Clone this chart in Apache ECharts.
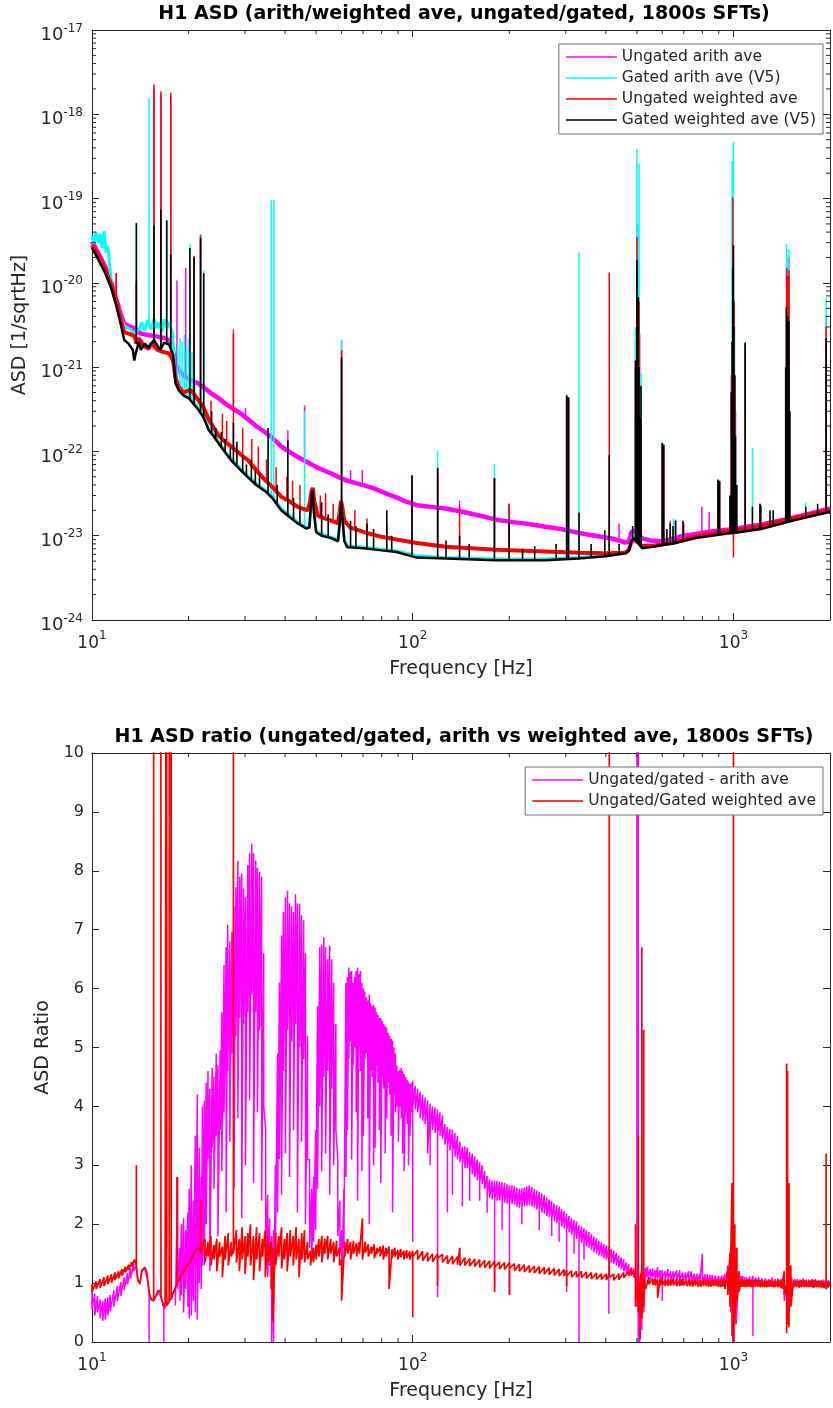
<!DOCTYPE html>
<html>
<head>
<meta charset="utf-8">
<title>H1 ASD</title>
<script src="https://cdn.jsdelivr.net/npm/echarts@6.0.0/dist/echarts.min.js"></script>
<style>
  html, body { margin: 0; padding: 0; background: #fff; }
  #chart { width: 833px; height: 1408px; }
</style>
</head>
<body>
<div id="chart"></div>
<script>
// ---------- ASD spectra: [frequency Hz, ASD 1/sqrt(Hz)] ----------
// "Floor" arrays trace the broadband noise floor; "Lines" arrays are narrow
// spectral lines given as [frequency, floor level, line peak].

const ungatedArithFloor = [
  [10, 3.1e-20], [10.5, 2.2e-20], [11, 1.55e-20], [11.5, 9.8e-21], [11.9, 6.4e-21], [12.3, 4.2e-21],
  [12.6, 3.3e-21], [13.2, 3.0e-21], [13.75, 2.8e-21], [14.2, 2.5e-21], [15, 2.4e-21], [16, 2.3e-21],
  [17, 2.2e-21], [17.6, 2.0e-21], [18.0, 1.4e-21], [18.3, 1.05e-21], [18.65, 9.1e-22], [19.5, 7.8e-22],
  [20.3, 7.0e-22], [21.5, 6.4e-22], [22.5, 5.6e-22], [23.5, 4.9e-22], [24.8, 4.3e-22], [26, 3.7e-22],
  [27.2, 3.3e-22], [28.8, 2.9e-22], [30.7, 2.4e-22], [32.5, 2.0e-22], [34.6, 1.7e-22], [36.5, 1.45e-22],
  [38.9, 1.15e-22], [41, 1.0e-22], [43.8, 8.6e-23], [46.5, 7.6e-23], [49, 6.8e-23], [52, 6.1e-23],
  [55.5, 5.5e-23], [58.5, 5.0e-23], [62.5, 4.5e-23], [66.5, 4.2e-23], [70.5, 3.95e-23], [75, 3.7e-23],
  [79, 3.4e-23], [84, 3.1e-23], [89, 2.85e-23], [95, 2.55e-23], [103, 2.3e-23], [113, 2.2e-23],
  [127, 2.1e-23], [145, 1.9e-23], [165, 1.7e-23], [182, 1.55e-23], [205, 1.45e-23], [230, 1.38e-23],
  [259, 1.28e-23], [290, 1.2e-23], [329, 1.08e-23], [370, 1.0e-23], [420, 9.2e-24], [461, 8.3e-24],
  [472, 8.5e-24], [481, 1.1e-23], [490, 1.15e-23], [500, 1.1e-23], [519, 9.3e-24], [550, 8.8e-24],
  [594, 8.6e-24], [650, 9.3e-24], [700, 1.0e-23], [763, 1.05e-23], [850, 1.12e-23], [957, 1.18e-23],
  [1000, 1.2e-23], [1100, 1.28e-23], [1218, 1.35e-23], [1380, 1.5e-23], [1545, 1.65e-23], [1750, 1.85e-23],
  [1945, 2.05e-23], [2000, 2.1e-23]
];
const ungatedArithLines = [
  [11.9, 6.4e-21, 1.3e-20], [13.75, 2.8e-21, 1.1e-20], [15.6, 2.4e-21, 2.0e-18], [16.4, 2.3e-21, 1.7e-18],
  [17.6, 2.0e-21, 1.6e-18], [18.4, 1.0e-21, 1.07e-20], [19.6, 7.8e-22, 1.5e-20], [21.8, 6.2e-22, 3.5e-20],
  [27.6, 3.2e-22, 2.8e-21], [30.1, 2.6e-22, 3.3e-22], [40.8, 1.02e-22, 1.77e-22], [46, 7.8e-23, 3.5e-22],
  [60, 4.8e-23, 2.07e-21], [64, 4.4e-23, 6.0e-23], [69.6, 4.0e-23, 6.0e-23], [99.5, 2.45e-23, 5.2e-23],
  [119.6, 2.15e-23, 6.4e-23], [140, 1.95e-23, 2.6e-23], [179.8, 1.56e-23, 4.8e-23], [199.7, 1.47e-23, 2.4e-23],
  [302, 1.17e-23, 4.6e-22], [306, 1.16e-23, 4.4e-22], [410, 9.3e-24, 1.5e-23], [440, 8.8e-24, 1.4e-23],
  [495, 1.12e-23, 2.0e-21], [500, 1.1e-23, 4.8e-20], [505, 1.05e-23, 8.0e-21], [510, 1.0e-23, 2.5e-21],
  [515, 9.5e-24, 3.0e-22], [600, 8.6e-24, 1.26e-22], [606, 8.6e-24, 1.2e-22], [635, 9.0e-24, 1.5e-23],
  [660, 9.5e-24, 1.55e-23], [797, 1.07e-23, 2.2e-23], [840, 1.1e-23, 1.9e-23], [895, 1.14e-23, 4.6e-23],
  [905, 1.15e-23, 4.4e-23], [985, 1.19e-23, 8.0e-22], [995, 1.2e-23, 2.95e-21], [1000, 1.2e-23, 1.5e-21],
  [1005, 1.2e-23, 9.0e-22], [1015, 1.21e-23, 3.0e-22], [1088, 1.28e-23, 1.9e-21], [1210, 1.35e-23, 2.4e-23],
  [1216, 1.35e-23, 2.3e-23], [1465, 1.58e-23, 2.2e-20], [1475, 1.59e-23, 1.2e-20], [1490, 1.6e-23, 2.0e-20],
  [1945, 2.05e-23, 4.1e-21]
];

const gatedArithFloor = [
  [10, 3.6e-20], [10.15, 2.9e-20], [10.3, 4.0e-20], [10.45, 3.0e-20], [10.6, 3.8e-20], [10.75, 2.6e-20],
  [10.9, 4.1e-20], [11.05, 2.3e-20], [11.2, 2.7e-20], [11.5, 1.0e-20], [11.9, 6.0e-21], [12.3, 3.8e-21],
  [12.6, 3.1e-21], [13.2, 2.8e-21], [13.6, 2.5e-21], [14.0, 2.8e-21], [14.3, 3.4e-21], [14.6, 2.7e-21],
  [14.9, 3.6e-21], [15.3, 2.8e-21], [15.6, 3.8e-21], [15.9, 2.9e-21], [16.2, 3.4e-21], [16.5, 2.6e-21],
  [16.8, 3.7e-21], [17.1, 2.9e-21], [17.4, 3.4e-21], [17.8, 2.6e-21], [18.1, 1.0e-21], [18.4, 6.0e-22],
  [18.7, 5.6e-22], [19.3, 4.8e-22], [20.0, 4.5e-22], [20.8, 3.8e-22], [21.5, 3.3e-22], [22.3, 2.7e-22],
  [23.1, 1.9e-22], [24.0, 1.6e-22], [24.8, 1.3e-22], [26.0, 1.0e-22], [27.2, 8.2e-23], [28.8, 6.5e-23],
  [30.7, 5.1e-23], [32.5, 4.2e-23], [34.6, 3.5e-23], [36.5, 2.9e-23], [38.9, 2.1e-23], [41, 1.8e-23],
  [43.8, 1.45e-23], [46.5, 1.25e-23], [47.6, 1.3e-23], [48.2, 2.5e-23], [48.7, 3.5e-23], [49.2, 2.0e-23],
  [50.0, 1.15e-23], [52, 1.05e-23], [55.5, 9.6e-24], [58.5, 9.0e-24], [59.3, 1.6e-23], [59.8, 2.5e-23],
  [60.4, 1.7e-23], [61.2, 9.0e-24], [62.5, 7.6e-24], [70.5, 7.3e-24], [80, 6.9e-24], [89, 6.6e-24],
  [103, 5.8e-24], [127, 5.5e-24], [182, 5.3e-24], [259, 5.3e-24], [329, 5.5e-24], [400, 5.9e-24],
  [461, 6.4e-24], [472, 6.8e-24], [481, 9.0e-24], [490, 1.0e-23], [500, 9.0e-24], [519, 7.3e-24],
  [560, 7.6e-24], [594, 7.9e-24], [650, 8.3e-24], [763, 9.6e-24], [957, 1.08e-23], [1000, 1.1e-23],
  [1218, 1.23e-23], [1545, 1.55e-23], [1945, 1.9e-23], [2000, 1.95e-23]
];
const gatedArithLines = [
  [13.75, 2.5e-21, 5.2e-20], [15.07, 3.0e-21, 1.55e-18], [17.1, 2.9e-21, 5.6e-20], [18.5, 6.0e-22, 1.8e-21],
  [18.8, 5.5e-22, 2.2e-21], [19.1, 5.2e-22, 2.0e-21], [19.4, 4.9e-22, 2.4e-21], [19.7, 4.7e-22, 1.7e-21],
  [20.0, 4.5e-22, 2.2e-21], [20.2, 4.3e-22, 2.9e-20], [20.5, 4.2e-22, 1.5e-21], [20.9, 3.8e-22, 8.0e-22],
  [21.8, 3.1e-22, 3.8e-20], [22.3, 2.7e-22, 1.4e-20], [36.2, 2.9e-23, 9.7e-20], [36.9, 2.8e-23, 9.7e-20],
  [46, 1.3e-23, 3.0e-22], [60, 2.5e-23, 2.07e-21], [119.6, 5.7e-24, 1.02e-22], [179.8, 5.3e-24, 7.1e-23],
  [302, 5.4e-24, 4.8e-22], [306, 5.4e-24, 4.4e-22], [330, 5.5e-24, 2.3e-20], [495, 9.5e-24, 3.0e-21],
  [500, 9.0e-24, 3.9e-19], [506, 8.5e-24, 5.0e-20], [508, 8.3e-24, 2.6e-19], [515, 7.8e-24, 8.6e-22],
  [600, 8.0e-24, 1.3e-22], [606, 8.0e-24, 1.2e-22], [650, 8.3e-24, 1.6e-23], [895, 1.04e-23, 4.7e-23],
  [990, 1.09e-23, 2.8e-19], [1000, 1.1e-23, 4.7e-19], [1008, 1.1e-23, 3.0e-21], [1088, 1.15e-23, 2.0e-21],
  [1146, 1.18e-23, 1.1e-22], [1465, 1.45e-23, 2.9e-20], [1478, 1.46e-23, 1.5e-20], [1490, 1.47e-23, 2.5e-20],
  [1680, 1.68e-23, 2.5e-23], [1945, 1.9e-23, 6.7e-21]
];

const ungatedWeightedFloor = [
  [10, 2.8e-20], [10.5, 2.0e-20], [11, 1.45e-20], [11.5, 9.4e-21], [11.9, 6.0e-21], [12.3, 3.6e-21],
  [12.6, 2.6e-21], [13.2, 2.45e-21], [13.6, 2.3e-21], [13.75, 1.9e-21], [14.0, 2.2e-21], [14.5, 1.8e-21],
  [15.0, 1.65e-21], [15.3, 1.9e-21], [15.6, 1.8e-21], [16.0, 1.6e-21], [16.4, 1.55e-21], [16.8, 1.5e-21],
  [17.4, 1.45e-21], [17.9, 1.2e-21], [18.2, 7.5e-22], [18.65, 5.8e-22], [19.3, 5.0e-22], [20.0, 5.3e-22],
  [20.5, 5.2e-22], [21.5, 4.0e-22], [22.3, 3.3e-22], [23.1, 2.4e-22], [24.0, 1.9e-22], [24.8, 1.55e-22],
  [26.0, 1.3e-22], [27.2, 1.14e-22], [28.8, 9.5e-23], [30.7, 7.8e-23], [32.5, 6.0e-23], [34.6, 4.6e-23],
  [36.5, 3.8e-23], [38.9, 2.9e-23], [41, 2.6e-23], [43.8, 2.2e-23], [47, 2.0e-23], [47.8, 2.5e-23],
  [48.4, 3.4e-23], [48.8, 3.7e-23], [49.3, 2.6e-23], [50.5, 1.75e-23], [52, 1.65e-23], [55.5, 1.52e-23],
  [58.5, 1.4e-23], [59.3, 2.0e-23], [59.8, 2.6e-23], [60.4, 2.1e-23], [61.2, 1.5e-23], [64, 1.25e-23],
  [70.5, 1.1e-23], [80, 9.7e-24], [89, 9.0e-24], [103, 8.2e-24], [127, 7.4e-24], [182, 6.8e-24],
  [259, 6.5e-24], [329, 6.3e-24], [400, 6.2e-24], [461, 6.3e-24], [472, 6.8e-24], [481, 8.6e-24],
  [490, 9.0e-24], [500, 8.5e-24], [519, 7.6e-24], [560, 7.6e-24], [594, 7.8e-24], [650, 8.3e-24],
  [763, 9.8e-24], [957, 1.13e-23], [1000, 1.15e-23], [1218, 1.3e-23], [1545, 1.62e-23], [1945, 1.97e-23],
  [2000, 2.0e-23]
];
const ungatedWeightedLines = [
  [11.9, 6.0e-21, 1.3e-20], [13.75, 1.9e-21, 1.0e-20], [15.6, 1.8e-21, 2.25e-18], [16.4, 1.55e-21, 1.86e-18],
  [17.6, 1.4e-21, 1.8e-18], [20.8, 4.9e-22, 2.1e-20], [21.8, 3.8e-22, 3.7e-20], [23.5, 2.2e-22, 4.0e-22],
  [25.5, 1.4e-22, 2.8e-22], [26.3, 1.28e-22, 2.3e-22], [27.6, 1.1e-22, 2.5e-21], [29.5, 8.8e-23, 1.9e-22],
  [31.5, 7.2e-23, 1.4e-22], [33.0, 5.6e-23, 1.15e-22], [35.0, 4.4e-23, 8.0e-23], [37.5, 3.4e-23, 6.5e-23],
  [40.5, 2.7e-23, 5.0e-23], [42.2, 2.4e-23, 4.5e-23], [44.5, 2.1e-23, 4.0e-23], [51.5, 1.7e-23, 3.0e-23],
  [53.5, 1.6e-23, 3.2e-23], [56.5, 1.5e-23, 2.4e-23], [60, 2.6e-23, 1.6e-21], [66, 1.2e-23, 2.0e-23],
  [72, 1.08e-23, 1.6e-23], [83, 9.5e-24, 1.4e-23], [99.5, 8.3e-24, 5.0e-23], [119.6, 7.6e-24, 5.5e-23],
  [140, 7.2e-24, 2.2e-23], [179.8, 6.8e-24, 4.8e-23], [199.7, 6.7e-24, 2.4e-23], [302, 6.4e-24, 4.5e-22],
  [306, 6.4e-24, 4.3e-22], [410, 6.2e-24, 1.33e-20], [495, 8.8e-24, 1.0e-21], [500, 8.5e-24, 3.5e-20],
  [505, 8.2e-24, 4.0e-21], [508, 8.0e-24, 6.0e-21], [515, 7.8e-24, 2.0e-22], [600, 7.8e-24, 1.2e-22],
  [606, 7.8e-24, 1.15e-22], [700, 9.0e-24, 1.4e-23], [895, 1.08e-23, 4.4e-23], [905, 1.09e-23, 4.3e-23],
  [985, 1.14e-23, 5.0e-22], [995, 1.15e-23, 1.02e-19], [1000, 1.15e-23, 5.5e-24], [1005, 1.15e-23, 6.0e-21],
  [1012, 1.16e-23, 8.0e-22], [1088, 1.2e-23, 1.9e-21], [1465, 1.55e-23, 1.5e-20], [1478, 1.56e-23, 1.2e-20],
  [1490, 1.57e-23, 1.4e-20], [1945, 1.97e-23, 3.0e-21]
];

const gatedWeightedFloor = [
  [10, 2.6e-20], [10.5, 1.85e-20], [11, 1.3e-20], [11.5, 8.5e-21], [11.9, 5.4e-21], [12.3, 3.2e-21],
  [12.6, 2.1e-21], [13.0, 1.9e-21], [13.4, 1.6e-21], [13.55, 1.2e-21], [13.65, 1.4e-21], [14.0, 2.0e-21],
  [14.2, 1.6e-21], [14.6, 1.9e-21], [15.0, 1.7e-21], [15.3, 1.9e-21], [15.6, 2.1e-21], [16.0, 1.8e-21],
  [16.3, 1.6e-21], [16.8, 1.95e-21], [17.4, 1.85e-21], [17.9, 1.4e-21], [18.2, 6.5e-22], [18.65, 5.3e-22],
  [19.3, 4.6e-22], [20.0, 4.3e-22], [20.8, 3.6e-22], [21.5, 3.1e-22], [22.3, 2.5e-22], [23.1, 1.8e-22],
  [24.0, 1.5e-22], [24.8, 1.25e-22], [26.0, 9.8e-23], [27.2, 7.8e-23], [28.8, 6.2e-23], [30.7, 4.9e-23],
  [32.5, 4.0e-23], [34.6, 3.4e-23], [36.5, 2.8e-23], [38.9, 2.0e-23], [41, 1.7e-23], [43.8, 1.4e-23],
  [46.5, 1.22e-23], [47.6, 1.25e-23], [48.2, 2.4e-23], [48.7, 3.45e-23], [49.2, 1.9e-23], [50.0, 1.1e-23],
  [52, 1.0e-23], [55.5, 9.4e-24], [58.5, 8.6e-24], [59.3, 1.5e-23], [59.8, 2.4e-23], [60.4, 1.6e-23],
  [61.2, 8.6e-24], [62.5, 7.3e-24], [70.5, 7.1e-24], [80, 6.7e-24], [89, 6.4e-24], [103, 5.5e-24],
  [127, 5.35e-24], [182, 5.1e-24], [259, 5.1e-24], [329, 5.35e-24], [400, 5.7e-24], [461, 6.2e-24],
  [472, 6.6e-24], [481, 8.8e-24], [490, 9.2e-24], [500, 8.6e-24], [519, 7.1e-24], [560, 7.4e-24],
  [594, 7.7e-24], [650, 8.1e-24], [763, 9.4e-24], [957, 1.06e-23], [1000, 1.08e-23], [1218, 1.2e-23],
  [1545, 1.52e-23], [1945, 1.87e-23], [2000, 1.9e-23]
];
const gatedWeightedLines = [
  [13.75, 1.9e-21, 5.1e-20], [15.6, 2.1e-21, 4.8e-20], [16.4, 1.7e-21, 7.4e-20], [17.1, 1.9e-21, 5.5e-20],
  [17.6, 1.75e-21, 2.2e-20], [20.2, 4.2e-22, 2.6e-20], [20.8, 3.6e-22, 2.0e-20], [21.8, 3.0e-22, 3.4e-20],
  [22.3, 2.5e-22, 1.3e-20], [23.6, 1.6e-22, 3.0e-22], [24.3, 1.4e-22, 1.9e-22], [25.3, 1.15e-22, 1.7e-22],
  [26.0, 9.8e-23, 1.4e-22], [27.0, 8.0e-23, 1.1e-22], [27.6, 7.5e-23, 2.2e-22], [28.3, 6.8e-23, 1.3e-22],
  [29.5, 5.6e-23, 9.0e-23], [30.3, 5.1e-23, 7.0e-23], [31.4, 4.6e-23, 8.0e-23], [32.3, 4.1e-23, 6.0e-23],
  [33.3, 3.8e-23, 5.5e-23], [35.4, 3.1e-23, 1.9e-22], [37.8, 2.4e-23, 4.0e-23], [40.8, 1.75e-23, 1.35e-22],
  [42.5, 1.55e-23, 2.8e-23], [44.5, 1.35e-23, 2.2e-23], [52, 1.0e-23, 2.5e-23], [54.5, 9.6e-24, 1.8e-23],
  [60, 2.4e-23, 1.3e-21], [64, 7.3e-24, 1.5e-23], [66.5, 7.2e-24, 1.3e-23], [72, 7.0e-24, 1.4e-23],
  [75.5, 6.9e-24, 1.2e-23], [83, 6.6e-24, 2.0e-23], [86, 6.5e-24, 1.0e-23], [99.5, 5.6e-24, 5.2e-23],
  [119.6, 5.4e-24, 6.4e-23], [127, 5.35e-24, 8.8e-24], [140, 5.3e-24, 1.0e-23], [150, 5.25e-24, 8.0e-24],
  [179.8, 5.1e-24, 4.8e-23], [199.7, 5.1e-24, 1.5e-23], [220, 5.1e-24, 7.0e-24], [240, 5.1e-24, 7.5e-24],
  [280, 5.2e-24, 8.0e-24], [302, 5.3e-24, 4.6e-22], [306, 5.3e-24, 4.4e-22], [330, 5.35e-24, 1.87e-23],
  [360, 5.5e-24, 8.0e-24], [397, 5.7e-24, 1.16e-23], [410, 5.8e-24, 9.0e-23], [440, 6.0e-24, 8.0e-24],
  [485, 8.9e-24, 1.3e-23], [495, 9.0e-24, 1.2e-21], [498, 8.9e-24, 4.0e-22], [500, 8.6e-24, 1.86e-20],
  [502, 8.5e-24, 2.0e-21], [505, 8.3e-24, 6.8e-21], [508, 8.1e-24, 1.0e-21], [511, 7.9e-24, 2.5e-22],
  [515, 7.5e-24, 6.0e-22], [600, 7.8e-24, 1.26e-22], [606, 7.8e-24, 1.2e-22], [620, 7.9e-24, 1.2e-23],
  [635, 8.0e-24, 1.4e-23], [648, 8.1e-24, 1.3e-23], [660, 8.2e-24, 1.5e-23], [696, 8.6e-24, 1.5e-23],
  [895, 1.02e-23, 4.6e-23], [905, 1.03e-23, 4.5e-23], [975, 1.07e-23, 3.0e-23], [985, 1.07e-23, 5.0e-22],
  [990, 1.07e-23, 2.0e-21], [995, 1.08e-23, 1.5e-20], [1000, 1.08e-23, 2.8e-20], [1003, 1.08e-23, 3.0e-21],
  [1008, 1.08e-23, 8.0e-22], [1015, 1.09e-23, 1.5e-22], [1025, 1.09e-23, 4.0e-23], [1088, 1.12e-23, 1.95e-21],
  [1146, 1.15e-23, 2.2e-23], [1210, 1.2e-23, 2.4e-23], [1216, 1.2e-23, 2.3e-23], [1300, 1.27e-23, 2.0e-23],
  [1330, 1.3e-23, 2.0e-23], [1455, 1.42e-23, 1.0e-21], [1462, 1.43e-23, 5.1e-21], [1468, 1.43e-23, 3.0e-21],
  [1475, 1.44e-23, 4.0e-21], [1482, 1.45e-23, 2.0e-21], [1490, 1.46e-23, 3.5e-21], [1500, 1.47e-23, 3.0e-22],
  [1680, 1.64e-23, 2.2e-23], [1830, 1.78e-23, 2.4e-23], [1945, 1.87e-23, 2.2e-21]
];

// ---------- ASD ratios: [frequency Hz, ratio values traced at that bin in order] ----------
const arithRatio = [
  [10, 0.9, 0.55], [10.2, 0.82, 0.45], [10.4, 0.78, 0.5], [10.6, 0.72, 0.4], [10.8, 0.7, 0.36],
  [11.0, 0.74, 0.38], [11.2, 0.76, 0.45], [11.4, 0.8, 0.52], [11.7, 0.88, 0.6], [12.0, 0.95, 0.7],
  [12.3, 1.02, 0.78], [12.6, 1.1, 0.88], [12.9, 1.17, 0.98], [13.2, 1.25, 1.08], [13.5, 1.33, 1.2],
  [13.75, 1.3], [13.9, 1.05], [14.1, 0.98], [14.3, 1.22], [14.6, 1.25], [14.85, 1.1],
  [15.07, 0.85, 0.0, 0.8], [15.3, 0.72], [15.6, 0.7], [15.9, 0.8], [16.2, 0.85], [16.5, 0.7],
  [16.75, 0.6, 0.0, 0.55], [17.0, 0.62], [17.3, 0.68], [17.6, 0.72], [17.9, 0.85], [18.2, 0.92, 0.62],
  [18.5, 2.8, 0.9], [18.8, 1.6, 0.7], [19.0, 2.0, 0.8], [19.3, 2.1, 0.5], [19.6, 1.9, 0.9],
  [19.9, 2.2, 0.6], [20.1, 2.6, 0.4], [20.4, 3.0, 0.45], [20.7, 2.4, 0.7], [21.0, 3.5, 0.5],
  [21.3, 4.2, 0.38], [21.6, 3.3, 1.0], [21.9, 2.8, 0.9], [22.1, 4.0, 1.3],
  [22.4, 4.1, 1.3], [22.7, 4.4, 2.0], [23.0, 4.6, 3.1], [23.3, 4.3, 1.2], [23.7, 4.65, 3.3],
  [24.0, 4.5, 2.6], [24.4, 4.9, 3.5], [24.7, 4.7, 1.8], [25.1, 4.95, 3.6], [25.4, 5.6, 2.9],
  [25.8, 6.4, 3.9], [26.2, 6.7, 2.2], [26.5, 7.08, 4.6], [26.9, 6.8, 3.4], [27.3, 6.96, 4.9],
  [27.7, 7.4, 2.6], [28.1, 7.72, 5.2], [28.5, 8.17, 3.8], [28.9, 7.9, 5.5], [29.3, 7.95, 2.1],
  [29.7, 7.7, 5.4], [30.1, 7.55, 3.0], [30.6, 8.1, 5.6], [31.0, 8.3, 4.1], [31.5, 8.46, 5.9],
  [31.9, 8.3, 2.7], [32.4, 8.17, 5.6], [32.8, 8.05, 3.9], [33.3, 7.98, 5.3], [33.8, 7.9, 2.4],
  [34.3, 6.6, 4.0], [34.8, 3.6, 1.4], [35.3, 2.5, 1.1], [35.8, 2.1, 1.3], [36.3, 1.8, 0.0],
  [36.8, 1.9, 0.0], [37.3, 3.0, 1.5], [37.9, 4.9, 2.2], [38.4, 6.1, 3.1], [39.0, 6.9, 2.5],
  [39.5, 7.3, 4.6], [40.1, 7.55, 3.2], [40.7, 7.66, 5.3], [41.3, 7.45, 2.8], [41.9, 7.4, 5.1],
  [42.5, 7.3, 3.6], [43.1, 7.6, 5.4], [43.7, 7.45, 2.2], [44.4, 7.44, 5.0], [45.0, 7.25, 3.4],
  [45.7, 7.16, 4.8], [46.3, 6.6, 2.0], [47.0, 5.2, 3.1], [47.7, 3.1, 1.6], [48.4, 2.6, 1.4],
  [49.1, 2.8, 1.7], [49.8, 3.6, 1.9], [50.5, 5.7, 2.6], [51.3, 6.7, 4.0], [52.0, 6.75, 2.9],
  [52.8, 6.87, 4.5], [53.5, 6.7, 3.2], [54.3, 6.5, 4.6], [55.1, 6.73, 2.5], [55.9, 6.5, 4.3],
  [56.7, 6.1, 3.0], [57.6, 5.4, 3.6], [58.4, 3.1, 1.8], [59.3, 2.4, 1.5], [60.1, 1.9, 0.9],
  [61.0, 2.6, 1.6], [61.9, 6.1, 2.8],
  [62.6, 6.2, 3.6], [63.2, 6.36, 4.8], [63.9, 6.28, 5.1], [64.5, 6.3, 3.1], [65.2, 6.1, 4.7],
  [65.9, 6.2, 5.0], [66.6, 6.3, 3.9], [67.3, 6.36, 2.4], [68.0, 6.25, 5.0], [68.7, 6.3, 4.6],
  [69.4, 6.1, 2.9], [70.2, 6.0, 3.5], [70.9, 5.95, 4.8], [71.7, 5.85, 4.9], [72.4, 5.8, 3.8],
  [73.2, 5.9, 2.0], [73.9, 5.75, 4.6], [74.7, 5.7, 4.5], [75.5, 5.72, 3.0], [76.3, 5.68, 3.3],
  [77.1, 5.6, 4.7], [77.9, 5.55, 4.4], [78.7, 5.5, 3.6], [79.5, 5.5, 2.7], [80.3, 5.45, 4.5],
  [81.2, 5.4, 4.3], [82.0, 5.36, 3.2], [82.9, 5.34, 3.8], [83.8, 5.25, 4.4], [84.7, 5.2, 4.2],
  [85.6, 5.15, 3.5], [86.5, 5.12, 2.2], [87.4, 5.0, 4.2], [88.3, 4.9, 3.9], [89.2, 4.7, 4.0],
  [90.2, 4.6, 3.4], [91.1, 4.62, 4.0], [92.1, 4.65, 3.8], [93.0, 4.6, 3.2], [94.0, 4.55, 2.9],
  [95.0, 4.5, 3.9], [96.0, 4.45, 3.7], [97.0, 4.42, 3.0], [98.0, 4.38, 3.5], [99.0, 4.4, 3.9],
  [100, 4.44, 1.7, 4.0],
  [101.8, 4.35, 3.95], [103.6, 4.3, 3.9], [105.5, 4.25, 3.8], [107.4, 4.2, 3.75], [109.3, 4.15, 3.7],
  [111.3, 4.1, 3.2], [113.3, 4.05, 3.0, 3.65], [115.3, 4.0, 3.6], [117.4, 3.98, 3.55], [119.5, 3.95, 0.76, 3.5],
  [121.6, 3.9, 3.5], [123.8, 3.85, 3.45], [126, 3.7, 3.35], [128.3, 3.65, 2.2, 3.3], [130.6, 3.62, 3.25],
  [133, 3.6, 2.5, 3.2], [135.4, 3.55, 3.15], [137.8, 3.5, 3.1], [140.3, 3.4, 3.05], [142.8, 3.31, 2.3, 3.0],
  [145.4, 3.32, 2.95], [148, 3.3, 2.95], [150.6, 3.22, 2.4, 2.88], [153.3, 3.2, 2.85], [156.1, 3.15, 2.8],
  [158.9, 3.1, 2.75], [161.7, 3.05, 2.4, 2.7], [164.6, 3.0, 2.68], [167.6, 2.9, 2.6], [170.6, 2.82, 2.2, 2.5],
  [173.7, 2.76, 2.45], [176.8, 2.74, 2.42], [180, 2.74, 0.93, 2.4], [183.2, 2.73, 2.4], [186.5, 2.72, 2.4],
  [189.9, 2.71, 1.9, 2.38], [193.3, 2.7, 2.36], [196.8, 2.68, 2.35], [200.3, 2.66, 0.81, 2.35], [203.9, 2.66, 2.34],
  [207.6, 2.65, 2.33], [211.3, 2.62, 2.3], [215.1, 2.6, 2.28], [219, 2.61, 2.0, 2.28], [222.9, 2.62, 2.3],
  [226.9, 2.64, 2.31], [231, 2.66, 2.32], [235.2, 2.63, 2.3], [239.4, 2.6, 2.28], [243.7, 2.57, 2.25],
  [248.1, 2.55, 1.9, 2.23], [252.6, 2.52, 2.2], [257.1, 2.49, 2.18], [261.7, 2.45, 2.14], [266.4, 2.42, 2.12],
  [271.2, 2.39, 1.8, 2.08], [276.1, 2.35, 2.05], [281.1, 2.32, 2.02], [286.2, 2.3, 1.7, 2.0], [291.3, 2.26, 1.96],
  [296.5, 2.22, 1.93], [301.9, 2.18, 0.85, 1.9], [307.3, 2.14, 1.86], [312.8, 2.1, 1.82], [318.4, 2.07, 1.5, 1.78],
  [324.2, 2.05, 1.75], [330, 1.98, 0.0, 1.7], [336, 1.96, 1.68], [342, 1.93, 1.4, 1.65], [348.1, 1.9, 1.62],
  [354.4, 1.87, 1.6], [360.8, 1.83, 1.56], [367.3, 1.79, 1.53], [373.9, 1.76, 1.5], [380.6, 1.72, 1.47],
  [387.5, 1.69, 1.45], [394.4, 1.66, 1.42], [401.5, 1.64, 1.4], [408.8, 1.61, 0.48, 1.38], [416.1, 1.58, 1.35],
  [423.6, 1.55, 1.33], [431.2, 1.51, 1.3], [439, 1.47, 1.27], [446.9, 1.43, 1.23], [455, 1.4, 1.2],
  [463.1, 1.35, 1.17], [471.5, 1.32, 1.15], [480, 1.27, 1.12], [488.6, 1.25, 1.1],
  [495, 1.2, 1.0], [500, 1.25, 12, 0.6], [505, 1.1, 25, 0.0], [510, 1.0, 0.0, 0.8], [518, 1.3, 0.2, 1.1],
  [525, 1.25, 0.5], [532, 1.26, 1.08], [540, 1.28, 1.1], [550, 1.24, 1.06], [560, 1.25, 1.1],
  [570, 1.22, 1.05], [580, 1.27, 1.08], [590, 1.22, 1.04], [600, 1.22, 0.7, 1.1], [612, 1.2, 1.05],
  [625, 1.24, 1.08], [637, 1.2, 1.04], [650, 1.2, 1.06], [665, 1.22, 1.03], [680, 1.22, 1.05],
  [695, 1.18, 1.03], [710, 1.18, 1.04], [725, 1.2, 1.02], [740, 1.2, 1.02], [755, 1.16, 1.01],
  [770, 1.16, 1.02], [785, 1.15, 1.0], [800, 1.5, 1.0], [815, 1.15, 1.0], [830, 1.15, 1.0],
  [845, 1.14, 0.99], [860, 1.14, 0.98], [880, 1.13, 0.98], [900, 1.12, 0.98], [920, 1.13, 0.96],
  [940, 1.15, 0.9], [960, 1.3, 0.8], [980, 1.6, 0.5], [995, 2.0, 0.0], [1005, 1.2, 0.0, 1.5],
  [1020, 1.6, 0.3], [1040, 1.2, 0.85], [1055, 1.12, 0.97], [1070, 1.12, 0.98], [1085, 1.1, 0.96],
  [1100, 1.1, 0.97], [1125, 1.11, 0.96], [1150, 1.12, 0.1, 1.0], [1175, 1.09, 0.96], [1200, 1.1, 0.96],
  [1230, 1.08, 0.95], [1260, 1.08, 0.96], [1290, 1.07, 0.95], [1320, 1.09, 0.95], [1350, 1.07, 0.94],
  [1380, 1.08, 0.95], [1410, 1.07, 0.94], [1440, 1.2, 0.7], [1470, 1.0, 0.3], [1490, 1.3, 0.5],
  [1520, 1.1, 0.9], [1550, 1.07, 0.95], [1580, 1.07, 0.95], [1615, 1.06, 0.94], [1650, 1.08, 0.95],
  [1685, 1.06, 0.94], [1720, 1.06, 0.94], [1760, 1.07, 0.93], [1800, 1.07, 0.94], [1840, 1.05, 0.93],
  [1880, 1.05, 0.93], [1910, 1.06, 0.92], [1945, 1.05, 0.9], [1975, 1.05, 0.93], [2000, 1.04]
];

const weightedRatio = [
  [10, 0.98, 0.85], [10.3, 1.03, 0.9], [10.6, 1.07, 0.92], [10.9, 1.1, 0.95], [11.2, 1.13, 0.98],
  [11.5, 1.15, 1.0], [11.8, 1.18, 1.05], [12.1, 1.2, 1.08], [12.4, 1.24, 1.12], [12.7, 1.28, 1.18],
  [13.0, 1.31, 1.22], [13.3, 1.36, 1.28], [13.55, 1.4], [13.75, 1.3, 3.0, 1.25], [13.9, 1.05],
  [14.1, 1.0], [14.3, 1.2], [14.6, 1.27], [14.8, 1.2], [15.1, 0.82], [15.3, 0.72],
  [15.57, 0.7, 47, 0.72], [15.8, 0.78], [16.1, 0.88], [16.4, 0.85, 25, 0.8], [16.7, 0.6], [16.9, 0.66],
  [17.1, 0.65, 20, 0.62], [17.4, 0.68], [17.65, 0.7, 82, 0.72], [17.9, 0.82], [18.2, 0.93],
  [18.4, 0.98, 2.8, 1.0], [18.8, 1.08], [19.3, 1.2], [19.8, 1.3], [20.3, 1.39], [20.8, 1.5],
  [21.4, 1.6], [21.8, 1.55, 2.4, 1.5], [22.1, 1.62],
  [22.5, 1.75, 1.35], [23, 1.7, 1.45], [23.5, 1.8, 1.3], [24, 1.65, 1.4], [24.5, 1.75, 1.2],
  [25, 1.7, 1.45], [25.5, 1.62, 1.1], [26, 1.8, 1.4], [26.6, 1.85, 1.3], [27.2, 1.7, 1.45],
  [27.6, 1.6, 12.7, 1.5], [28.2, 1.9, 1.35], [28.8, 1.75, 1.2], [29.4, 1.95, 1.4], [30, 1.8, 1.15],
  [30.6, 1.85, 1.45], [31.2, 2.0, 1.3], [31.9, 1.8, 1.05], [32.6, 1.95, 1.4], [33.3, 1.85, 1.2],
  [34, 1.75, 1.45], [34.7, 1.9, 1.1], [35.4, 1.8, 1.35], [36.2, 1.7, 0.9], [36.6, 1.6, 0.35],
  [37.4, 1.85, 1.3], [38.2, 1.8, 1.45], [39, 1.95, 1.25], [39.8, 1.75, 1.4], [40.6, 1.85, 1.2],
  [41.5, 1.9, 1.45], [42.4, 1.8, 1.3], [43.3, 1.95, 1.4], [44.2, 1.75, 1.1], [45.1, 1.85, 1.4],
  [46, 1.9, 1.35], [47, 1.7, 1.4], [48, 1.55, 1.3], [49, 1.6, 1.35], [50, 1.65, 1.4],
  [51, 1.75, 1.45], [52.1, 1.8, 1.35], [53.2, 1.75, 1.5], [54.3, 1.8, 1.4], [55.5, 1.75, 1.5],
  [56.7, 1.7, 1.35], [57.9, 1.72, 1.45], [59.1, 1.6, 1.3], [60, 1.4, 0.7], [61.4, 1.7, 1.45],
  [62.7, 1.75, 1.5], [64, 1.7, 1.4], [65.4, 1.72, 1.5], [66.8, 1.68, 1.45], [68.2, 1.7, 1.5],
  [69.7, 2.1, 1.4], [71.2, 1.7, 1.52], [72.7, 1.66, 1.45], [74.3, 1.62, 1.5], [75.9, 1.66, 1.42],
  [77.5, 1.6, 1.5], [79.2, 1.62, 1.45], [80.9, 1.64, 1.4], [82.6, 1.6, 1.45], [84.4, 1.62, 0.9],
  [86.2, 1.58, 1.42], [88, 1.6, 1.45], [89.9, 1.56, 1.4], [91.8, 1.58, 1.44], [93.8, 1.55, 1.4],
  [95.8, 1.56, 1.42], [97.9, 1.54, 1.4],
  [100, 1.55, 0.42, 1.45], [103.6, 1.56, 1.4], [107.4, 1.54, 1.38], [111.3, 1.52, 1.37], [115.3, 1.5, 1.36],
  [119.5, 1.5, 0.95, 1.42], [123.8, 1.49, 1.35], [128.3, 1.47, 1.33], [133, 1.46, 1.32], [137.8, 1.45, 1.31],
  [140.3, 1.6, 1.3], [145.4, 1.43, 1.3], [150.6, 1.42, 1.29], [156.1, 1.41, 1.28], [161.7, 1.4, 1.27],
  [167.6, 1.39, 1.26], [173.7, 1.38, 1.25], [180, 1.37, 0.85, 1.27], [186.5, 1.36, 1.24], [193.3, 1.35, 1.23],
  [200.3, 1.35, 0.8, 1.25], [207.6, 1.33, 1.21], [215.1, 1.32, 1.2], [222.9, 1.31, 1.19], [231, 1.3, 1.18],
  [239.4, 1.29, 1.17], [248.1, 1.28, 1.16], [257.1, 1.27, 1.15], [266.4, 1.26, 1.14], [276.1, 1.25, 1.13],
  [286.2, 1.24, 1.12], [296.5, 1.23, 1.12], [301.9, 1.22, 0.95, 1.12], [312.8, 1.21, 1.1], [324.2, 1.2, 1.1],
  [336, 1.2, 1.09], [348.1, 1.19, 1.08], [360.8, 1.18, 1.07], [373.9, 1.17, 1.06], [387.5, 1.16, 1.06],
  [401.5, 1.16, 1.05], [410, 1.15, 148, 1.1], [423.6, 1.15, 1.05], [439, 1.16, 1.06], [455, 1.18, 1.09],
  [471.5, 1.2, 1.12], [481, 1.24, 1.15], [490, 1.2, 1.1], [495, 1.15, 2.0, 0.6],
  [505, 1.1, 3.5, 0.5], [512, 1.0, 0.05, 1.1], [518, 1.2, 6.7, 0.4], [525, 1.15, 5.3, 0.6, 1.1],
  [532, 1.1, 0.9], [545, 1.1, 0.98], [560, 1.08, 0.97], [570, 1.07, 0.96], [580, 1.07, 0.75],
  [590, 1.06, 0.96], [600, 1.09, 0.96], [612, 1.06, 0.95], [625, 1.07, 0.95], [637, 1.06, 0.96],
  [650, 1.08, 0.96], [665, 1.06, 0.95], [680, 1.06, 0.95], [690, 1.07, 0.96], [700, 1.07, 0.96],
  [715, 1.05, 0.95], [730, 1.06, 0.95], [745, 1.05, 0.94], [760, 1.07, 0.96], [775, 1.05, 0.94],
  [790, 1.05, 0.94], [805, 1.06, 0.95], [820, 1.06, 0.95], [835, 1.05, 0.94], [850, 1.05, 0.94],
  [865, 1.06, 0.95], [880, 1.06, 0.95], [895, 1.05, 0.94], [910, 1.05, 0.93], [925, 1.06, 0.94],
  [940, 1.06, 0.9], [960, 1.2, 0.8], [975, 1.5, 0.6], [990, 2.7, 0.1],
  [1000, 1.0, 30, 0.0, 1.0], [1010, 2.0, 0.3], [1025, 1.6, 0.7], [1040, 1.2, 0.85], [1060, 1.07, 0.94],
  [1075, 1.05, 0.94], [1090, 1.05, 0.93], [1105, 1.06, 0.94], [1120, 1.06, 0.94], [1135, 1.05, 0.93],
  [1150, 1.05, 0.93], [1170, 1.06, 0.94], [1190, 1.06, 0.94], [1210, 1.05, 0.93], [1230, 1.05, 0.93],
  [1250, 1.04, 0.93], [1270, 1.04, 0.93], [1290, 1.05, 0.94], [1310, 1.05, 0.94], [1330, 1.04, 0.93],
  [1350, 1.04, 0.93], [1375, 1.05, 0.93], [1400, 1.05, 0.92], [1420, 1.06, 0.9], [1440, 1.2, 0.8],
  [1465, 1.0, 4.73, 0.15, 1.0], [1475, 4.6, 0.3], [1490, 1.0, 2.7, 0.25, 1.0], [1510, 1.3, 0.6],
  [1540, 1.05, 0.93], [1570, 1.04, 0.93], [1600, 1.04, 0.92], [1630, 1.05, 0.93], [1660, 1.05, 0.93],
  [1690, 1.04, 0.93], [1720, 1.04, 0.93], [1750, 1.05, 0.93], [1780, 1.05, 0.92], [1815, 1.04, 0.93],
  [1850, 1.04, 0.93], [1880, 1.04, 0.92], [1910, 1.03, 0.92], [1945, 1.0, 3.2, 0.9], [1975, 1.03, 0.93],
  [2000, 1.0]
];

// ---------- axis ticks ----------
const minorFreqTicks = [20, 30, 40, 50, 60, 70, 80, 90, 200, 300, 400, 500, 600, 700, 800, 900];
const minorAsdTicks = [
  2e-24, 3e-24, 4e-24, 5e-24, 6e-24, 7e-24, 8e-24, 9e-24,
  2e-23, 3e-23, 4e-23, 5e-23, 6e-23, 7e-23, 8e-23, 9e-23,
  2e-22, 3e-22, 4e-22, 5e-22, 6e-22, 7e-22, 8e-22, 9e-22,
  2e-21, 3e-21, 4e-21, 5e-21, 6e-21, 7e-21, 8e-21, 9e-21,
  2e-20, 3e-20, 4e-20, 5e-20, 6e-20, 7e-20, 8e-20, 9e-20,
  2e-19, 3e-19, 4e-19, 5e-19, 6e-19, 7e-19, 8e-19, 9e-19,
  2e-18, 3e-18, 4e-18, 5e-18, 6e-18, 7e-18, 8e-18, 9e-18
];
const topLegendNames = ['Ungated arith ave', 'Gated arith ave (V5)', 'Ungated weighted ave', 'Gated weighted ave (V5)'];
const ratioLegendNames = ['Ungated/gated - arith ave', 'Ungated/Gated weighted ave'];

// The log axis rounds tick values to 20 decimals, so ASD is handed to it in
// units of 1e-24 and the tick labels add the exponent back.
const ASD_UNIT = 1e-24, ASD_UNIT_EXP = -24;
const toUnit = v => (v === null ? null : v / ASD_UNIT);

// ---------- styling ----------
const FONT = "'DejaVu Sans', Verdana, sans-serif";
const INK = '#262626';
const MAGENTA = '#ff00ff', CYAN = '#00ffff', RED = '#ff0000', BLACK = '#000000';

function scaled(pairs) { return pairs.map(p => [p[0], toUnit(p[1])]); }
// each row: frequency followed by the values traced at that frequency
function traceRows(rows) {
  const out = [];
  rows.forEach(r => { for (let i = 1; i < r.length; i++) out.push([r[0], r[i]]); });
  return out;
}
// each spectral line: vertical stroke from floor to peak, then a gap
function lineStrokes(rows) {
  const out = [];
  rows.forEach(r => { out.push([r[0], toUnit(r[1])], [r[0], toUnit(r[2])], [r[0], null]); });
  return out;
}

function powerLabel(offset) {
  return function (v) {
    const e = Math.log10(v), r = Math.round(e);
    if (Math.abs(e - r) > 1e-6) return '';
    return '{b|10}{s|' + (r + offset) + '}';
  };
}
function powerRich(base, sup) {
  return {
    b: { fontFamily: FONT, fontSize: base, color: INK, lineHeight: 22, verticalAlign: 'bottom' },
    s: { fontFamily: FONT, fontSize: sup, color: INK, lineHeight: 22, verticalAlign: 'top' }
  };
}

const tickStyle = { color: INK, width: 1 };
const nameStyle = { fontFamily: FONT, fontSize: 19, color: INK };
function freqAxis(gridIndex, position, labelled) {
  return {
    type: 'log', logBase: 10, min: 10, max: 2000, gridIndex: gridIndex, position: position,
    axisLine: { show: true, onZero: false, lineStyle: tickStyle },
    axisTick: { show: true, inside: true, length: 7, lineStyle: tickStyle },
    axisLabel: labelled ? { show: true, margin: 10, formatter: powerLabel(0), rich: powerRich(17, 12) } : { show: false },
    splitLine: { show: false },
    name: labelled ? 'Frequency [Hz]' : '',
    nameLocation: 'middle', nameGap: 40, nameTextStyle: nameStyle
  };
}
function asdAxis(position, labelled) {
  return {
    type: 'log', logBase: 10, min: 1, max: 1e7, gridIndex: 0, position: position,
    axisLine: { show: true, onZero: false, lineStyle: tickStyle },
    axisTick: { show: true, inside: true, length: 7, lineStyle: tickStyle },
    axisLabel: labelled ? { show: true, margin: 9, padding: [7, 0, 0, 0], formatter: powerLabel(ASD_UNIT_EXP), rich: powerRich(18, 12) } : { show: false },
    splitLine: { show: false },
    name: labelled ? 'ASD [1/sqrtHz]' : '',
    nameLocation: 'middle', nameGap: 53, nameRotate: 90, nameTextStyle: nameStyle
  };
}
function ratioAxis(position, labelled) {
  return {
    type: 'value', min: 0, max: 10, interval: 1, gridIndex: 1, position: position,
    axisLine: { show: true, onZero: false, lineStyle: tickStyle },
    axisTick: { show: true, inside: true, length: 7, lineStyle: tickStyle },
    axisLabel: labelled ? { show: true, margin: 8, fontFamily: FONT, fontSize: 16, color: INK } : { show: false },
    splitLine: { show: false },
    name: labelled ? 'ASD Ratio' : '',
    nameLocation: 'middle', nameGap: 31, nameRotate: 90, nameTextStyle: nameStyle
  };
}

function curve(name, data, color, width, xi, yi) {
  return {
    type: 'line', name: name, data: data, xAxisIndex: xi, yAxisIndex: yi,
    showSymbol: false, symbol: 'none', silent: true, animation: false, clip: true,
    connectNulls: false,
    itemStyle: { color: color },
    lineStyle: { color: color, width: width, join: 'bevel' }
  };
}

// minor ticks on log axes, drawn at both edges of the plot box
function minorTicks(xi, yi, dim, values, anchor) {
  return {
    type: 'custom', xAxisIndex: xi, yAxisIndex: yi, silent: true, animation: false, clip: false, z: 10,
    data: values.map(v => dim === 'x' ? [v, anchor] : [anchor, v]),
    renderItem: function (params, api) {
      const cs = params.coordSys;
      const p = api.coord([api.value(0), api.value(1)]);
      const st = { stroke: INK, lineWidth: 1 };
      const L = 4;
      if (dim === 'x') {
        return { type: 'group', children: [
          { type: 'line', shape: { x1: p[0], y1: cs.y + cs.height, x2: p[0], y2: cs.y + cs.height - L }, style: st },
          { type: 'line', shape: { x1: p[0], y1: cs.y, x2: p[0], y2: cs.y + L }, style: st }
        ] };
      }
      return { type: 'group', children: [
        { type: 'line', shape: { x1: cs.x, y1: p[1], x2: cs.x + L, y2: p[1] }, style: st },
        { type: 'line', shape: { x1: cs.x + cs.width, y1: p[1], x2: cs.x + cs.width - L, y2: p[1] }, style: st }
      ] };
    }
  };
}

const legendCommon = {
  orient: 'vertical', right: 10, icon: 'rect', itemWidth: 51, itemHeight: 1.5, itemGap: 5,
  selectedMode: false, backgroundColor: '#ffffff', borderColor: '#6e6e6e', borderWidth: 1, borderRadius: 0,
  textStyle: { fontFamily: FONT, fontSize: 15.5, color: INK, lineHeight: 16 }
};
const titleStyle = { fontFamily: FONT, fontSize: 19, fontWeight: 'bold', color: '#000' };

const option = {
  backgroundColor: '#ffffff',
  animation: false,
  title: [
    { text: 'H1 ASD (arith/weighted ave, ungated/gated, 1800s SFTs)', left: 464, top: 5, textAlign: 'center', padding: 0, textStyle: titleStyle },
    { text: 'H1 ASD ratio (ungated/gated, arith vs weighted ave, 1800s SFTs)', left: 464, top: 728, textAlign: 'center', padding: 0, textStyle: titleStyle }
  ],
  legend: [
    Object.assign({}, legendCommon, { data: topLegendNames, top: 44, padding: [5, 7, 6, 7] }),
    Object.assign({}, legendCommon, { data: ratioLegendNames, top: 767, padding: [5, 7, 6, 7] })
  ],
  grid: [
    { left: 92, top: 30, width: 745, height: 590, containLabel: false },
    { left: 92, top: 753, width: 745, height: 589, containLabel: false }
  ],
  xAxis: [freqAxis(0, 'bottom', true), freqAxis(0, 'top', false), freqAxis(1, 'bottom', true), freqAxis(1, 'top', false)],
  yAxis: [asdAxis('left', true), asdAxis('right', false), ratioAxis('left', true), ratioAxis('right', false)],
  series: [
    curve(topLegendNames[0], scaled(ungatedArithFloor), MAGENTA, 4.5, 0, 0),
    curve(topLegendNames[0], lineStrokes(ungatedArithLines), MAGENTA, 1.5, 0, 0),
    curve(topLegendNames[1], scaled(gatedArithFloor), CYAN, 3, 0, 0),
    curve(topLegendNames[1], lineStrokes(gatedArithLines), CYAN, 1.5, 0, 0),
    curve(topLegendNames[2], scaled(ungatedWeightedFloor), RED, 4, 0, 0),
    curve(topLegendNames[2], lineStrokes(ungatedWeightedLines), RED, 1.5, 0, 0),
    curve(topLegendNames[3], scaled(gatedWeightedFloor), BLACK, 2.5, 0, 0),
    curve(topLegendNames[3], lineStrokes(gatedWeightedLines), BLACK, 1.6, 0, 0),
    curve(ratioLegendNames[0], traceRows(arithRatio), MAGENTA, 1.5, 2, 2),
    curve(ratioLegendNames[1], traceRows(weightedRatio), RED, 1.7, 2, 2),
    minorTicks(0, 0, 'x', minorFreqTicks, 1),
    minorTicks(0, 0, 'y', minorAsdTicks.map(toUnit), 10),
    minorTicks(2, 2, 'x', minorFreqTicks, 0)
  ]
};

const chart = echarts.init(document.getElementById('chart'), null, { renderer: 'canvas' });
chart.setOption(option);
</script>
</body>
</html>
